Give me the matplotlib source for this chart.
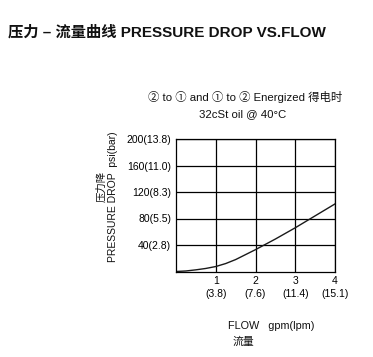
import matplotlib
matplotlib.use("Agg")
import matplotlib.pyplot as plt

plt.rcParams['font.family'] = ['Liberation Sans', 'Noto Sans CJK SC', 'DejaVu Sans']

flow_gpm = [0, 0.25, 0.5, 0.75, 1, 1.25, 1.5, 2, 2.5, 3, 3.5, 4]
pressure_psi = [0, 0.8, 2.5, 4.6, 7.5, 12, 18, 33, 49, 66, 84, 102]

x_ticks = [1, 2, 3, 4]
x_tick_labels = ["1\n(3.8)", "2\n(7.6)", "3\n(11.4)", "4\n(15.1)"]
y_ticks = [40, 80, 120, 160, 200]
y_tick_labels = ["40(2.8)", "80(5.5)", "120(8.3)", "160(11.0)", "200(13.8)"]

W, H = 373, 357
fig = plt.figure(figsize=(W / 100, H / 100), dpi=100)
ax = fig.add_axes([176 / W, 1 - 271.5 / H, (335 - 176) / W, (271.5 - 139) / H])

ax.plot(flow_gpm, pressure_psi, color='#1a1a1a', lw=1.0)
ax.set_xlim(0, 4)
ax.set_ylim(0, 200)
ax.set_xticks(x_ticks)
ax.set_xticklabels(x_tick_labels, fontsize=7.5, linespacing=1.3)
ax.set_yticks(y_ticks)
ax.set_yticklabels(y_tick_labels, fontsize=7.5)
ax.tick_params(length=0, pad=3.5)
ax.grid(True, color='black', lw=0.9)
for s in ax.spines.values():
    s.set_linewidth(0.9)
    s.set_color('black')

fig.text(8 / W, 1 - 32 / H, "压力 – 流量曲线 PRESSURE DROP VS.FLOW",
         fontsize=11, fontweight='bold', ha='left', va='center', color='#111111')
fig.text(245 / W, 1 - 97 / H, "② to ① and ① to ② Energized 得电时",
         fontsize=8.2, ha='center', va='center', color='#111111')
fig.text(243 / W, 1 - 114 / H, "32cSt oil @ 40°C",
         fontsize=8.2, ha='center', va='center', color='#111111')
fig.text(113 / W, 1 - 197 / H, "PRESSURE DROP  psi(bar)", rotation=90,
         fontsize=7.5, ha='center', va='center', color='#111111')
fig.text(101.5 / W, 1 - 186 / H, "压力降", rotation=90,
         fontsize=7.5, ha='center', va='center', color='#111111')
fig.text(228 / W, 1 - 326 / H, "FLOW   gpm(lpm)",
         fontsize=7.8, ha='left', va='center', color='#111111')
fig.text(233 / W, 1 - 342 / H, "流量",
         fontsize=7.8, ha='left', va='center', color='#111111')

fig.savefig("out.png", dpi=100)
